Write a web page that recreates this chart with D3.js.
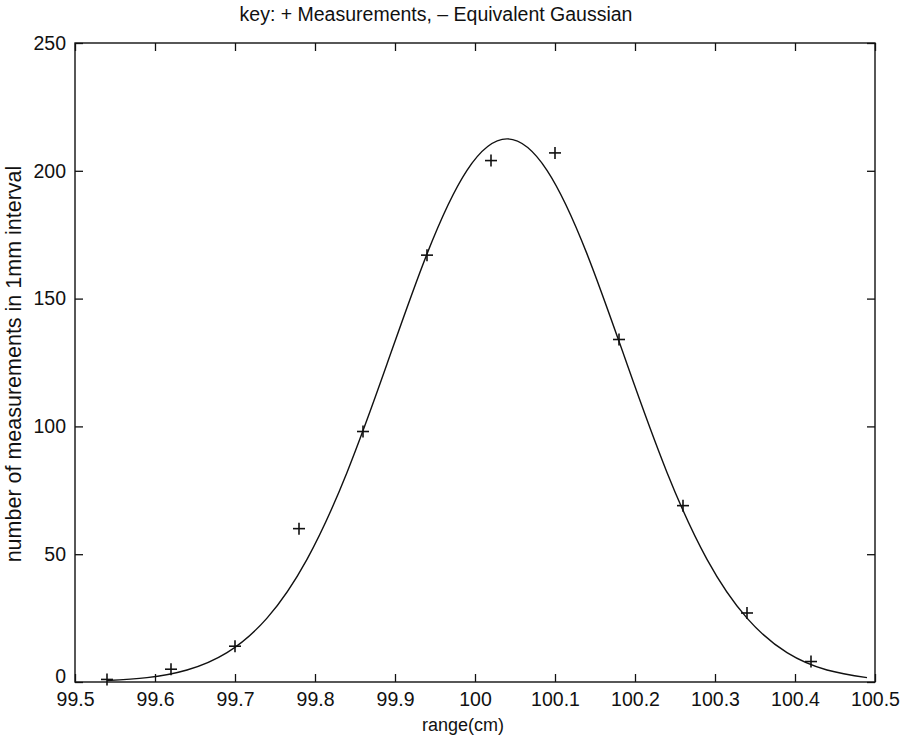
<!DOCTYPE html>
<html><head><meta charset="utf-8">
<script src="https://cdn.jsdelivr.net/npm/d3@7"></script>
<style>body{margin:0;background:#fff}svg{display:block}text{font-family:"Liberation Sans",Arial,sans-serif;fill:#111}</style>
</head><body><svg id="c" width="905" height="739"></svg>
<script>
// measurements (+)
const measX = [99.54, 99.62, 99.70, 99.78, 99.86, 99.94, 100.02, 100.10, 100.18, 100.26, 100.34, 100.42];
const measY = [1, 5, 14, 60, 98, 167, 204, 207, 134, 69, 27, 8];
// equivalent Gaussian curve
const curveX = [99.54, 99.59, 99.64, 99.69, 99.74, 99.79, 99.84, 99.89, 99.94, 99.99, 100.04, 100.09, 100.14, 100.19, 100.24, 100.29, 100.34, 100.39, 100.44, 100.49];
const curveY = [0.6, 1.7, 4.7, 11.5, 25, 48, 82, 124.4, 167.5, 200.2, 212.5, 200.2, 167.5, 124.4, 82, 48, 25, 11.5, 4.7, 1.7];
const xTicks = [99.5, 99.6, 99.7, 99.8, 99.9, 100, 100.1, 100.2, 100.3, 100.4, 100.5];
const yTicks = [0, 50, 100, 150, 200, 250];
const titleText = "key: + Measurements, \u2013 Equivalent Gaussian";
const xLabel = "range(cm)";
const yLabel = "number of measurements in 1mm interval";

const L = 75, R = 875, T = 43, B = 682;
const svg = d3.select("#c");
const x = d3.scaleLinear().domain([99.5, 100.5]).range([L, R]);
const y = d3.scaleLinear().domain([0, 250]).range([B, T]);

const fmt = d => d3.format("")(+d.toFixed(1));

// frame
svg.append("rect").attr("x", L).attr("y", T).attr("width", R - L).attr("height", B - T)
  .attr("fill", "none").attr("stroke", "#111").attr("stroke-width", 1.4);

// axes with inward ticks
const ax = d3.axisBottom(x).tickValues(xTicks).tickSizeInner(-8).tickSizeOuter(0).tickPadding(10).tickFormat(fmt);
const gx = svg.append("g").attr("transform", `translate(0,${B})`).call(ax);
const axT = d3.axisTop(x).tickValues(xTicks).tickSizeInner(-8).tickSizeOuter(0).tickFormat("");
const gxt = svg.append("g").attr("transform", `translate(0,${T})`).call(axT);
const ay = d3.axisLeft(y).tickValues(yTicks).tickSizeInner(-8).tickSizeOuter(0).tickPadding(9).tickFormat(d3.format("d"));
const gy = svg.append("g").attr("transform", `translate(${L},0)`).call(ay);
const ayR = d3.axisRight(y).tickValues(yTicks).tickSizeInner(-8).tickSizeOuter(0).tickFormat("");
const gyr = svg.append("g").attr("transform", `translate(${R},0)`).call(ayR);
[gx, gxt, gy, gyr].forEach(g => {
  g.select(".domain").remove();
  g.selectAll(".tick line").attr("stroke", "#111").attr("stroke-width", 1.3);
  g.selectAll("text").attr("font-size", 19.5).attr("fill", "#111");
});
// lift the y "0" label slightly so it does not touch the x labels
gy.selectAll(".tick text").filter(d => d === 0).attr("dy", "0.02em");

// curve
const line = d3.line().x((d, i) => x(curveX[i])).y(d => y(d)).curve(d3.curveNatural);
svg.append("path").attr("d", line(curveY)).attr("fill", "none").attr("stroke", "#111").attr("stroke-width", 1.4);

// + markers
const s = 6;
const mk = svg.append("g").attr("stroke", "#111").attr("stroke-width", 1.6);
measY.forEach((v, i) => {
  const cx = x(measX[i]), cy = y(v);
  mk.append("line").attr("x1", cx - s).attr("x2", cx + s).attr("y1", cy).attr("y2", cy);
  mk.append("line").attr("x1", cx).attr("x2", cx).attr("y1", cy - s).attr("y2", cy + s);
});

// texts
svg.append("text").attr("x", 436).attr("y", 21).attr("text-anchor", "middle").attr("font-size", 19.5).text(titleText);
svg.append("text").attr("x", 463).attr("y", 731).attr("text-anchor", "middle").attr("font-size", 18).text(xLabel);
svg.append("text").attr("transform", "translate(21,364) rotate(-90)").attr("text-anchor", "middle").attr("font-size", 21.5).text(yLabel);
</script></body></html>
